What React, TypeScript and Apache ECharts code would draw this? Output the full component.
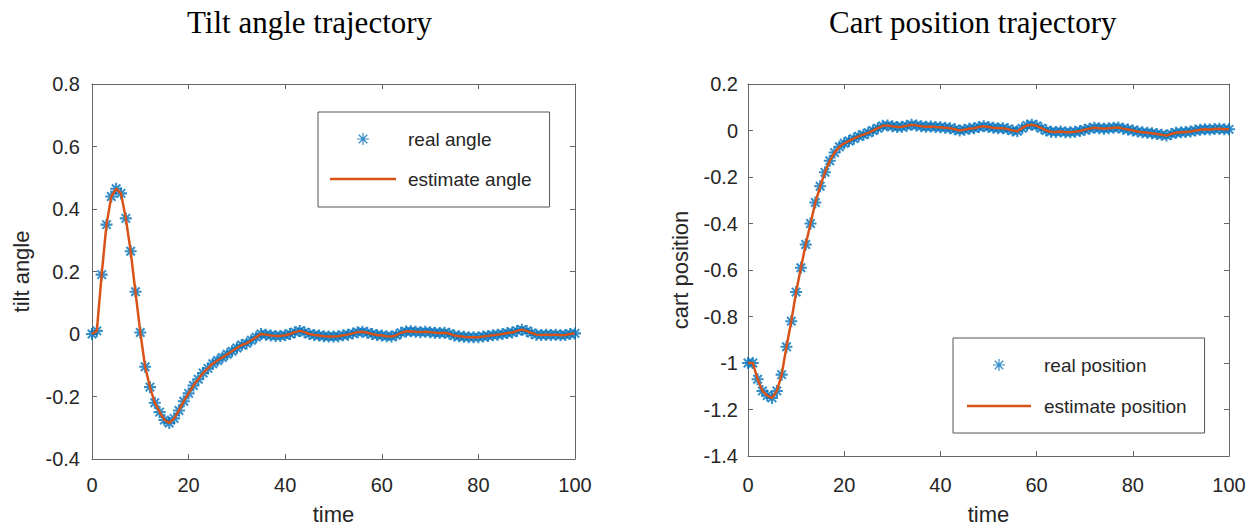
import React, { useEffect, useRef } from "react";
import * as echarts from "echarts";

// ---- Data (sample index t = 0..100) ----
const realAngle = [
  0.0, 0.01, 0.19, 0.35, 0.44, 0.465, 0.45, 0.37, 0.265, 0.135,
  0.005, -0.105, -0.17, -0.22, -0.25, -0.275, -0.285, -0.27, -0.245, -0.215,
  -0.19, -0.165, -0.145, -0.125, -0.11, -0.095, -0.085, -0.075, -0.065, -0.055,
  -0.045, -0.035, -0.03, -0.02, -0.01, 0.0, -0.002, -0.005, -0.006, -0.006,
  -0.004, 0.0, 0.006, 0.01, 0.006, 0.0, -0.003, -0.005, -0.007, -0.008,
  -0.008, -0.007, -0.004, -0.002, 0.002, 0.006, 0.007, 0.004, 0.0, -0.003,
  -0.005, -0.007, -0.008, -0.004, 0.004, 0.008, 0.009, 0.007, 0.006, 0.007,
  0.006, 0.004, 0.003, 0.004, 0.001, -0.005, -0.007, -0.009, -0.01, -0.01,
  -0.01, -0.008, -0.006, -0.004, -0.002, 0.0, 0.003, 0.005, 0.01, 0.014,
  0.01, 0.003, -0.002, -0.003, -0.002, -0.003, -0.002, -0.004, -0.003, 0.0,
  0.002,
];
const estimateAngle = [
  0.0, 0.01, 0.19, 0.35, 0.44, 0.465, 0.45, 0.37, 0.265, 0.135,
  0.005, -0.105, -0.17, -0.22, -0.25, -0.275, -0.285, -0.27, -0.245, -0.215,
  -0.19, -0.165, -0.145, -0.125, -0.11, -0.095, -0.085, -0.075, -0.065, -0.055,
  -0.045, -0.035, -0.03, -0.02, -0.01, 0.0, -0.002, -0.005, -0.006, -0.006,
  -0.004, 0.0, 0.006, 0.01, 0.006, 0.0, -0.003, -0.005, -0.007, -0.008,
  -0.008, -0.007, -0.004, -0.002, 0.002, 0.006, 0.007, 0.004, 0.0, -0.003,
  -0.005, -0.007, -0.008, -0.004, 0.004, 0.008, 0.009, 0.007, 0.006, 0.007,
  0.006, 0.004, 0.003, 0.004, 0.001, -0.005, -0.007, -0.009, -0.01, -0.01,
  -0.01, -0.008, -0.006, -0.004, -0.002, 0.0, 0.003, 0.005, 0.01, 0.014,
  0.01, 0.003, -0.002, -0.003, -0.002, -0.003, -0.002, -0.004, -0.003, 0.0,
  0.002,
];
const realPosition = [
  -1.0, -1.0, -1.07, -1.12, -1.14, -1.15, -1.12, -1.05, -0.93, -0.82,
  -0.695, -0.59, -0.49, -0.4, -0.31, -0.24, -0.18, -0.13, -0.095, -0.07,
  -0.055, -0.045, -0.035, -0.025, -0.018, -0.01, 0.0, 0.01, 0.02, 0.022,
  0.018, 0.015, 0.016, 0.02, 0.025, 0.022, 0.018, 0.016, 0.017, 0.015,
  0.014, 0.012, 0.01, 0.005, 0.0, 0.003, 0.008, 0.01, 0.015, 0.018,
  0.015, 0.012, 0.01, 0.01, 0.006, 0.0, -0.003, 0.01, 0.022, 0.025,
  0.02, 0.01, 0.0, -0.005, -0.006, -0.004, -0.007, -0.008, -0.005, -0.002,
  0.003, 0.008, 0.012, 0.01, 0.008, 0.01, 0.012, 0.013, 0.008, 0.004,
  0.0, -0.004, -0.008, -0.01, -0.012, -0.015, -0.018, -0.022, -0.015, -0.01,
  -0.008, -0.006, -0.004, 0.0, 0.003, 0.005, 0.004, 0.006, 0.008, 0.005,
  0.005,
];
const estimatePosition = [
  -1.0, -1.0, -1.07, -1.12, -1.14, -1.15, -1.12, -1.05, -0.93, -0.82,
  -0.695, -0.59, -0.49, -0.4, -0.31, -0.24, -0.18, -0.13, -0.095, -0.07,
  -0.055, -0.045, -0.035, -0.025, -0.018, -0.01, 0.0, 0.01, 0.02, 0.022,
  0.018, 0.015, 0.016, 0.02, 0.025, 0.022, 0.018, 0.016, 0.017, 0.015,
  0.014, 0.012, 0.01, 0.005, 0.0, 0.003, 0.008, 0.01, 0.015, 0.018,
  0.015, 0.012, 0.01, 0.01, 0.006, 0.0, -0.003, 0.01, 0.022, 0.025,
  0.02, 0.01, 0.0, -0.005, -0.006, -0.004, -0.007, -0.008, -0.005, -0.002,
  0.003, 0.008, 0.012, 0.01, 0.008, 0.01, 0.012, 0.013, 0.008, 0.004,
  0.0, -0.004, -0.008, -0.01, -0.012, -0.015, -0.018, -0.022, -0.015, -0.01,
  -0.008, -0.006, -0.004, 0.0, 0.003, 0.005, 0.004, 0.006, 0.008, 0.005,
  0.005,
];

const titles = ["Tilt angle trajectory", "Cart position trajectory"];
const xName = "time";
const yNames = ["tilt angle", "cart position"];
const legendNames = [
  ["real angle", "estimate angle"],
  ["real position", "estimate position"],
];

const BLUE = "#0072BD";
const ORANGE = "#D95319";
const AXIS = "#666666";
const TXT = "#262626";
const SANS = "Liberation Sans, Arial, sans-serif";
const SERIF = "Liberation Serif, Times New Roman, serif";

const ASTERISK =
  "path://M-1,-0.17L1,-0.17L1,0.17L-1,0.17Z" +
  "M0.17,-1L0.17,1L-0.17,1L-0.17,-1Z" +
  "M-0.587,-0.827L0.827,0.587L0.587,0.827L-0.827,-0.587Z" +
  "M-0.827,0.587L0.587,-0.827L0.827,-0.587L-0.587,0.827Z";

const LEGEND_ASTERISK =
  "path://M-1,-0.1L1,-0.1L1,0.1L-1,0.1Z" +
  "M0.1,-1L0.1,1L-0.1,1L-0.1,-1Z" +
  "M-0.636,-0.778L0.778,0.636L0.636,0.778L-0.778,-0.636Z" +
  "M-0.778,0.636L0.636,-0.778L0.778,-0.636L-0.636,0.778Z";

const LEGEND_LINE = "path://M0,0L66,0L66,2.5L0,2.5Z";

const toPairs = (arr: number[]) => arr.map((v, i) => [i, v]);
const fmt = (v: number) => String(Number(v.toFixed(1)));

function App() {
  const ref = useRef<HTMLDivElement>(null);
  useEffect(() => {
    if (!ref.current) return;
    const chart = echarts.init(ref.current, null, { renderer: "svg" });

    const grids = [
      { left: 92, top: 84, width: 483, height: 378 },
      { left: 748, top: 84, width: 481, height: 375 },
    ];
    const yRanges = [
      { min: -0.4, max: 0.8 },
      { min: -1.4, max: 0.2 },
    ];

    const xAxes: any[] = [];
    const yAxes: any[] = [];
    [0, 1].forEach((g) => {
      const base = {
        gridIndex: g,
        type: "value",
        axisLine: { show: true, onZero: false, lineStyle: { color: AXIS, width: 1 } },
        axisTick: { show: true, inside: true, length: 5, lineStyle: { color: AXIS } },
        splitLine: { show: false },
      };
      xAxes.push({
        ...base,
        position: "bottom",
        min: 0,
        max: 100,
        interval: 20,
        name: xName,
        nameLocation: "middle",
        nameGap: g === 0 ? 44 : 47,
        nameTextStyle: { fontSize: 22, color: TXT, fontFamily: SANS },
        axisLabel: { margin: g === 0 ? 16 : 19, fontSize: 20, color: TXT, fontFamily: SANS },
      });
      xAxes.push({
        ...base,
        position: "top",
        min: 0,
        max: 100,
        interval: 20,
        axisLabel: { show: false },
      });
      yAxes.push({
        ...base,
        position: "left",
        min: yRanges[g].min,
        max: yRanges[g].max,
        interval: 0.2,
        name: yNames[g],
        nameLocation: "middle",
        nameGap: g === 0 ? 60 : 57,
        nameTextStyle: { fontSize: 22, color: TXT, fontFamily: SANS },
        axisLabel: {
          margin: g === 0 ? 12 : 10,
          fontSize: 20,
          color: TXT,
          fontFamily: SANS,
          formatter: fmt,
        },
      });
      yAxes.push({
        ...base,
        position: "right",
        min: yRanges[g].min,
        max: yRanges[g].max,
        interval: 0.2,
        axisLabel: { show: false },
      });
    });

    const series: any[] = [
      {
        name: legendNames[0][0],
        type: "scatter",
        xAxisIndex: 0,
        yAxisIndex: 0,
        data: toPairs(realAngle),
        symbol: ASTERISK,
        symbolSize: 12,
        itemStyle: { color: BLUE },
        z: 2,
      },
      {
        name: legendNames[0][1],
        type: "line",
        xAxisIndex: 0,
        yAxisIndex: 0,
        data: toPairs(estimateAngle),
        symbol: "none",
        lineStyle: { color: ORANGE, width: 2.5 },
        itemStyle: { color: ORANGE },
        z: 3,
      },
      {
        name: legendNames[1][0],
        type: "scatter",
        xAxisIndex: 2,
        yAxisIndex: 2,
        data: toPairs(realPosition),
        symbol: ASTERISK,
        symbolSize: 12,
        itemStyle: { color: BLUE },
        z: 2,
      },
      {
        name: legendNames[1][1],
        type: "line",
        xAxisIndex: 2,
        yAxisIndex: 2,
        data: toPairs(estimatePosition),
        symbol: "none",
        lineStyle: { color: ORANGE, width: 2.5 },
        itemStyle: { color: ORANGE },
        z: 3,
      },
    ];

    const legendCommon = {
      orient: "vertical",
      selectedMode: false,
      itemGap: 20,
      itemHeight: 12,
      backgroundColor: "#ffffff",
      borderColor: "#555555",
      borderWidth: 1,
      borderRadius: 0,
      textStyle: { fontSize: 19, color: TXT, fontFamily: SANS, lineHeight: 20 },
    };

    chart.setOption({
      animation: false,
      backgroundColor: "#ffffff",
      title: [
        {
          text: titles[0],
          left: 187,
          top: 7,
          padding: 0,
          textStyle: { fontSize: 31, fontWeight: "normal", color: "#000", fontFamily: SERIF },
        },
        {
          text: titles[1],
          left: 829,
          top: 7,
          padding: 0,
          textStyle: { fontSize: 31, fontWeight: "normal", color: "#000", fontFamily: SERIF },
        },
      ],
      grid: grids,
      xAxis: xAxes,
      yAxis: yAxes,
      legend: [
        {
          ...legendCommon,
          data: [
            { name: legendNames[0][0], icon: LEGEND_ASTERISK },
            { name: legendNames[0][1], icon: LEGEND_LINE },
          ],
          left: 318,
          top: 112,
          itemWidth: 66,
          padding: [17, 18, 18, 12],
          textStyle: { ...legendCommon.textStyle, padding: [0, 0, 0, 7] },
        },
        {
          ...legendCommon,
          data: [
            { name: legendNames[1][0], icon: LEGEND_ASTERISK },
            { name: legendNames[1][1], icon: LEGEND_LINE },
          ],
          left: 953,
          top: 338,
          itemGap: 21,
          itemWidth: 64,
          padding: [17, 18, 17, 14],
          textStyle: { ...legendCommon.textStyle, padding: [0, 0, 0, 8] },
        },
      ],
      series,
    });

    return () => chart.dispose();
  }, []);

  return (
    <div
      ref={ref}
      style={{ position: "absolute", left: 0, top: 0, width: 1256, height: 530 }}
    />
  );
}

export default App;
